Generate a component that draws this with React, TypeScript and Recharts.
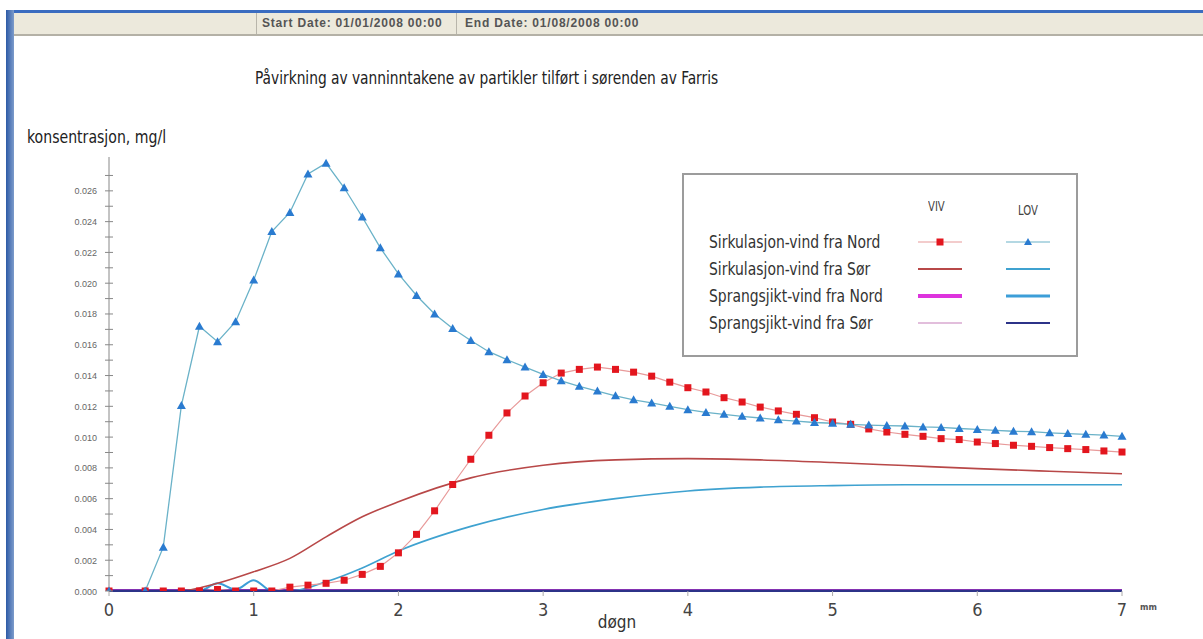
import { LineChart, Line, XAxis, YAxis } from 'recharts'

// time axis (døgn) for the marker series, 3-hour steps
const days = [0, 0.25, 0.375, 0.5, 0.625, 0.75, 0.875, 1, 1.125, 1.25, 1.375, 1.5, 1.625, 1.75, 1.875, 2,
  2.125, 2.25, 2.375, 2.5, 2.625, 2.75, 2.875, 3, 3.125, 3.25, 3.375, 3.5, 3.625, 3.75, 3.875, 4,
  4.125, 4.25, 4.375, 4.5, 4.625, 4.75, 4.875, 5, 5.125, 5.25, 5.375, 5.5, 5.625, 5.75, 5.875, 6,
  6.125, 6.25, 6.375, 6.5, 6.625, 6.75, 6.875, 7]

// Sirkulasjon-vind fra Nord
const lovSirkNord = [0, 0, 0.00285, 0.01205, 0.0172, 0.0162, 0.0175, 0.0202, 0.02336, 0.0246, 0.0271, 0.0278, 0.0262, 0.0243, 0.0223, 0.0206,
  0.0192, 0.018, 0.01705, 0.01628, 0.01555, 0.01503, 0.01455, 0.01407, 0.01366, 0.0133, 0.01299, 0.01268, 0.01242, 0.01222, 0.012, 0.01178,
  0.0116, 0.01148, 0.01135, 0.01124, 0.01112, 0.01104, 0.01095, 0.0109, 0.01083, 0.01078, 0.01075, 0.01072, 0.01066, 0.01063, 0.01056, 0.0105,
  0.01044, 0.01038, 0.01035, 0.01028, 0.01023, 0.01018, 0.01013, 0.01005]
const vivSirkNord = [0, 0, 0, 0, 0, 0.0001, 0, 0, 0, 0.00025, 0.00038, 0.0005, 0.0007, 0.00108, 0.0016, 0.00248,
  0.00368, 0.00521, 0.00692, 0.00856, 0.01012, 0.01157, 0.01267, 0.01353, 0.01416, 0.0144, 0.01455, 0.0144, 0.01422, 0.01396, 0.01357, 0.01321,
  0.01293, 0.01256, 0.01228, 0.01195, 0.0117, 0.01148, 0.01126, 0.01098, 0.01083, 0.01053, 0.01033, 0.01018, 0.01005, 0.0099, 0.00984, 0.00968,
  0.00958, 0.00947, 0.0094, 0.00932, 0.00925, 0.00919, 0.0091, 0.00903]

// Sirkulasjon-vind fra Sør
const sorDays = [0, 0.5, 0.625, 0.75, 1, 1.25, 1.5, 1.75, 2, 2.5, 3, 3.5, 4, 4.5, 5, 5.5, 6, 6.5, 7]
const vivSirkSor = [0, 0, 0.0002, 0.0005, 0.00125, 0.00212, 0.00352, 0.00482, 0.0058, 0.00735, 0.00817, 0.00852, 0.0086, 0.00852, 0.00835, 0.00815, 0.00795, 0.00778, 0.00762]
const lovSirkSor = [0, 0, 0, 0, 0, 0, 0.0006, 0.0015, 0.0026, 0.0042, 0.0053, 0.006, 0.0065, 0.00675, 0.00685, 0.0069, 0.0069, 0.0069, 0.0069]

// Sprangsjikt
const sprDays = [0, 0.625, 0.75, 0.875, 1, 1.125, 1.25, 7]
const vivSprNord = [0, 0, 0, 0, 0, 0, 0, 0]
const vivSprSor = [0, 0, 0, 0, 0, 0, 0, 0]
const lovSprNord = [0, 0, 0.0005, 0.0001, 0.0007, 0, 0, 0]
const lovSprSor = [0, 0, 0, 0, 0, 0, 0, 0]

const xTicks = [0, 1, 2, 3, 4, 5, 6, 7]
const yTicks = [0, 0.001, 0.002, 0.003, 0.004, 0.005, 0.006, 0.007, 0.008, 0.009, 0.01, 0.011, 0.012, 0.013,
  0.014, 0.015, 0.016, 0.017, 0.018, 0.019, 0.02, 0.021, 0.022, 0.023, 0.024, 0.025, 0.026, 0.027]

const legendRows = ['Sirkulasjon-vind fra Nord', 'Sirkulasjon-vind fra Sør', 'Sprangsjikt-vind fra Nord', 'Sprangsjikt-vind fra Sør']

const rows = (ts: number[], vs: number[]) => ts.map((t, i) => ({ t, v: vs[i] }))

const NARROW = "'Liberation Sans Narrow', 'DejaVu Sans Condensed', 'Liberation Sans', sans-serif"

const C = {
  vivNord: '#e3161e', vivNordLine: '#e89a9a',
  lovNord: '#2a7bd0', lovNordLine: '#6ab2c8',
  vivSor: '#b84848', lovSor: '#3fa2d0',
  vivSprNord: '#dd33dd', lovSprNord: '#3c9ed8',
  vivSprSor: '#d8a8d0', lovSprSor: '#2c3388',
}

const Tri = (p: any) => {
  if (p.cx == null || p.cy == null) return null
  const { cx, cy } = p
  return <path key={p.index} d={`M${cx},${cy - 4.5}L${cx + 4.5},${cy + 3.5}L${cx - 4.5},${cy + 3.5}Z`} fill={C.lovNord} />
}
const Sq = (p: any) => {
  if (p.cx == null || p.cy == null) return null
  return <rect key={p.index} x={p.cx - 3.5} y={p.cy - 3.5} width={7} height={7} fill={C.vivNord} />
}

const YTick = (p: any) => {
  const ax = p.x + 8
  const v = Number(p.payload.value)
  const major = Math.round(v * 1000) % 2 === 0
  return (
    <g>
      <line x1={ax - 4} x2={ax + 4} y1={p.y} y2={p.y} stroke="#888" />
      {major && (
        <text x={ax - 12} y={p.y} dy={3.5} textAnchor="end" fontSize={9} fill="#666" fontFamily="Liberation Sans, sans-serif">
          {v.toFixed(3)}
        </text>
      )}
    </g>
  )
}

const Sample = ({ color, width, marker }: { color: string; width: number; marker?: 'sq' | 'tri' }) => (
  <svg width={46} height={10} style={{ display: 'block' }}>
    <line x1={1} x2={45} y1={5} y2={5} stroke={color} strokeWidth={width} />
    {marker === 'sq' && <rect x={19.5} y={1.5} width={7} height={7} fill={C.vivNord} />}
    {marker === 'tri' && <path d="M23,1L27,8L19,8Z" fill={C.lovNord} />}
  </svg>
)

const squeeze = (s: number): React.CSSProperties => ({ transform: `scaleX(${s})`, transformOrigin: 'left center', whiteSpace: 'nowrap' })

export default function App() {
  const legendSamples = [
    [<Sample color={C.vivNordLine} width={1.2} marker="sq" />, <Sample color={C.lovNordLine} width={1.2} marker="tri" />],
    [<Sample color={C.vivSor} width={2} />, <Sample color={C.lovSor} width={2} />],
    [<Sample color={C.vivSprNord} width={4} />, <Sample color={C.lovSprNord} width={3} />],
    [<Sample color={C.vivSprSor} width={1.5} />, <Sample color={C.lovSprSor} width={2} />],
  ]
  return (
    <div style={{ position: 'absolute', left: 0, top: 0, width: 1203, height: 639, background: '#fff', overflow: 'hidden', fontFamily: NARROW }}>
      {/* window frame + header bar */}
      <div style={{ position: 'absolute', left: 6, top: 10, width: 1197, height: 3, background: '#3a6cc0' }} />
      <div style={{ position: 'absolute', left: 6, top: 10, width: 8, height: 629, background: 'linear-gradient(to right, #2d5aa6, #7d9ccb)' }} />
      <div style={{ position: 'absolute', left: 14, top: 13, width: 1189, height: 21, background: '#ece9dc', borderBottom: '2px solid #b4b1a6' }} />
      <div style={{ position: 'absolute', left: 256, top: 13, width: 1, height: 21, background: '#b8b5aa' }} />
      <div style={{ position: 'absolute', left: 456, top: 13, width: 1, height: 21, background: '#b8b5aa' }} />
      <div style={{ position: 'absolute', left: 262, top: 16, fontSize: 12, letterSpacing: 0.8, fontWeight: 'bold', color: '#555', fontFamily: 'Liberation Sans, sans-serif', whiteSpace: 'nowrap' }}>
        Start Date: 01/01/2008 00:00
      </div>
      <div style={{ position: 'absolute', left: 465, top: 16, fontSize: 12, letterSpacing: 0.8, fontWeight: 'bold', color: '#555', fontFamily: 'Liberation Sans, sans-serif', whiteSpace: 'nowrap' }}>
        End Date: 01/08/2008 00:00
      </div>

      <div style={{ position: 'absolute', left: 255, top: 68, fontSize: 17, lineHeight: '20px', color: '#222', ...squeeze(0.9) }}>
        Påvirkning av vanninntakene av partikler tilført i sørenden av Farris
      </div>
      <div style={{ position: 'absolute', left: 27, top: 127, fontSize: 18, lineHeight: '20px', color: '#222', ...squeeze(0.87) }}>
        konsentrasjon, mg/l
      </div>

      <div style={{ position: 'absolute', left: 0, top: 0 }}>
        <LineChart width={1203} height={639} margin={{ top: 157, right: 81, bottom: 18, left: 39 }}>
          <XAxis dataKey="t" type="number" domain={[0, 7]} ticks={xTicks} interval={0} allowDuplicatedCategory={false}
            axisLine={{ stroke: '#2c3388', strokeWidth: 2 }} tickLine={{ stroke: '#aaa' }} tickSize={5} tickMargin={7} height={30}
            tick={{ fontSize: 18, fill: '#444', fontFamily: NARROW }} />
          <YAxis type="number" domain={[0, 0.0282]} ticks={yTicks} interval={0} width={70} allowDataOverflow
            axisLine={{ stroke: '#888' }} tickLine={false} tickSize={4} tickMargin={4} tick={<YTick />} />

          <Line data={rows(sprDays, vivSprNord)} dataKey="v" stroke={C.vivSprNord} strokeWidth={4} dot={false} isAnimationActive={false} />
          <Line data={rows(sprDays, vivSprSor)} dataKey="v" stroke={C.vivSprSor} strokeWidth={1.5} dot={false} isAnimationActive={false} />
          <Line data={rows(sprDays, lovSprNord)} dataKey="v" type="monotone" stroke={C.lovSprNord} strokeWidth={2} dot={false} isAnimationActive={false} />
          <Line data={rows(sprDays, lovSprSor)} dataKey="v" stroke={C.lovSprSor} strokeWidth={3} dot={false} isAnimationActive={false} />

          <Line data={rows(sorDays, vivSirkSor)} dataKey="v" type="monotone" stroke={C.vivSor} strokeWidth={1.6} dot={false} isAnimationActive={false} />
          <Line data={rows(sorDays, lovSirkSor)} dataKey="v" type="monotone" stroke={C.lovSor} strokeWidth={1.6} dot={false} isAnimationActive={false} />

          <Line data={rows(days, vivSirkNord)} dataKey="v" stroke={C.vivNordLine} strokeWidth={1.2} dot={<Sq />} isAnimationActive={false} />
          <Line data={rows(days, lovSirkNord)} dataKey="v" stroke={C.lovNordLine} strokeWidth={1.3} dot={<Tri />} isAnimationActive={false} />
        </LineChart>
      </div>

      <div style={{ position: 'absolute', left: 617, top: 613, transform: 'translateX(-50%)', fontSize: 17, lineHeight: '18px', color: '#333' }}>døgn</div>
      <div style={{ position: 'absolute', left: 1140, top: 602, fontSize: 9, fontWeight: 'bold', color: '#555' }}>mm</div>

      {/* legend */}
      <div style={{ position: 'absolute', left: 682, top: 173, width: 392, height: 180, border: '2px solid #9c9c9c', background: '#fff' }}>
        <div style={{ position: 'absolute', left: 244, top: 23, fontSize: 14, color: '#444', ...squeeze(0.8) }}>VIV</div>
        <div style={{ position: 'absolute', left: 334, top: 27, fontSize: 14, color: '#444', ...squeeze(0.8) }}>LOV</div>
        {legendRows.map((label, i) => (
          <div key={label} style={{ position: 'absolute', left: 0, top: 57 + i * 27, height: 20, width: 392 }}>
            <div style={{ position: 'absolute', left: 25, top: 0, fontSize: 18, lineHeight: '20px', color: '#333', ...squeeze(0.86) }}>{label}</div>
            <div style={{ position: 'absolute', left: 233, top: 5 }}>{legendSamples[i][0]}</div>
            <div style={{ position: 'absolute', left: 321, top: 5 }}>{legendSamples[i][1]}</div>
          </div>
        ))}
      </div>
    </div>
  )
}
